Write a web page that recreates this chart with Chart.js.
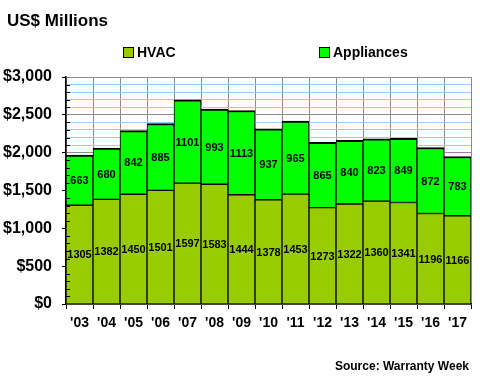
<!DOCTYPE html>
<html>
<head>
<meta charset="utf-8">
<script src="https://cdn.jsdelivr.net/npm/chart.js@4/dist/chart.umd.min.js"></script>
<style>
html,body{margin:0;padding:0;background:#fff;}
#wrap{width:480px;height:380px;position:relative;}
</style>
</head>
<body>
<div id="wrap"><canvas id="c" width="480" height="380"></canvas></div>
<script>
const categories = ["'03","'04","'05","'06","'07","'08","'09","'10","'11","'12","'13","'14","'15","'16","'17"];
const hvac = [1305,1382,1450,1501,1597,1583,1444,1378,1453,1273,1322,1360,1341,1196,1166];
const appliances = [663,680,842,885,1101,993,1113,937,965,865,840,823,849,872,783];
const seriesNames = ["HVAC","Appliances"];
const seriesColors = ["#99CC00","#00FF00"];
const titleText = "US$ Millions";
const sourceText = "Source: Warranty Week";

const FONT = "'Liberation Sans', Arial, sans-serif";

const extras = {
  id: 'extras',
  afterDatasetsDraw(chart) {
    const ctx = chart.ctx;
    ctx.save();
    ctx.fillStyle = '#000';
    ctx.font = 'bold 11px ' + FONT;
    ctx.textAlign = 'center';
    ctx.textBaseline = 'middle';
    chart.data.datasets.forEach((ds, i) => {
      const meta = chart.getDatasetMeta(i);
      meta.data.forEach((el, j) => {
        const y = (el.y + el.base) / 2;
        ctx.fillText(String(ds.data[j]), el.x, y + 1);
      });
    });
    ctx.restore();
  },
  afterDraw(chart) {
    const ctx = chart.ctx;
    const ys = chart.scales.y;
    const area = chart.chartArea;
    ctx.save();
    ctx.strokeStyle = '#000';
    ctx.lineWidth = 1;
    for (let v = 100; v < 3000; v += 100) {
      if (v % 500 === 0) continue;
      const py = Math.round(ys.getPixelForValue(v)) + 0.5;
      ctx.beginPath();
      ctx.moveTo(area.left, py);
      ctx.lineTo(area.left + 4, py);
      ctx.stroke();
    }
    ctx.fillStyle = '#000';
    ctx.textAlign = 'left';
    ctx.textBaseline = 'alphabetic';
    ctx.font = 'bold 17px ' + FONT;
    ctx.fillText(titleText, 7, 26);
    const legendX = [123, 319];
    ctx.font = 'bold 14px ' + FONT;
    seriesNames.forEach((name, i) => {
      const x = legendX[i];
      ctx.fillStyle = seriesColors[i];
      ctx.fillRect(x, 47, 10, 10);
      ctx.strokeStyle = '#000';
      ctx.lineWidth = 1;
      ctx.strokeRect(x + 0.5, 47.5, 10, 10);
      ctx.fillStyle = '#000';
      ctx.fillText(name, x + 14, 57);
    });
    ctx.font = 'bold 12px ' + FONT;
    ctx.textAlign = 'right';
    ctx.fillText(sourceText, 469, 370);
    ctx.restore();
  }
};

new Chart(document.getElementById('c'), {
  type: 'bar',
  data: {
    labels: categories,
    datasets: [
      {
        label: seriesNames[0],
        data: hvac,
        backgroundColor: seriesColors[0],
        borderColor: '#000',
        borderWidth: {top: 1, left: 1, right: 1, bottom: 0},
        borderSkipped: false,
        barPercentage: 1,
        categoryPercentage: 1
      },
      {
        label: seriesNames[1],
        data: appliances,
        backgroundColor: seriesColors[1],
        borderColor: '#000',
        borderWidth: {top: 2, left: 1, right: 1, bottom: 1},
        borderSkipped: false,
        barPercentage: 1,
        categoryPercentage: 1
      }
    ]
  },
  options: {
    responsive: false,
    animation: false,
    devicePixelRatio: 1,
    layout: {padding: {top: 77, right: 9, left: 0, bottom: 0}},
    plugins: {
      legend: {display: false},
      title: {display: false},
      tooltip: {enabled: false}
    },
    scales: {
      x: {
        stacked: true,
        offset: true,
        grid: {
          offset: true,
          color: '#8c8c8c',
          lineWidth: 1,
          tickColor: '#000',
          tickLength: 5
        },
        border: {display: true, color: '#000', width: 1.5},
        ticks: {
          color: '#000',
          font: {family: FONT, size: 14, weight: 'bold'},
          padding: 6,
          maxRotation: 0,
          autoSkip: false
        },
        afterFit(scale) { scale.height = 76; }
      },
      y: {
        stacked: true,
        min: 0,
        max: 3000,
        grid: {
          color: (c) => (c.tick && c.tick.value % 500 === 0) ? '#8c8c8c' : '#99CCFF',
          lineWidth: 1,
          tickColor: (c) => (c.tick && c.tick.value % 500 === 0) ? '#000' : 'rgba(0,0,0,0)',
          tickLength: 4
        },
        border: {display: true, color: '#000', width: 1.5},
        ticks: {
          stepSize: 100,
          autoSkip: false,
          color: '#000',
          font: {family: FONT, size: 16, weight: 'bold'},
          padding: 10,
          callback: (v) => (v % 500 === 0) ? '$' + v.toLocaleString('en-US') : ''
        },
        afterFit(scale) { scale.width = 66; }
      }
    }
  },
  plugins: [extras]
});
</script>
</body>
</html>
